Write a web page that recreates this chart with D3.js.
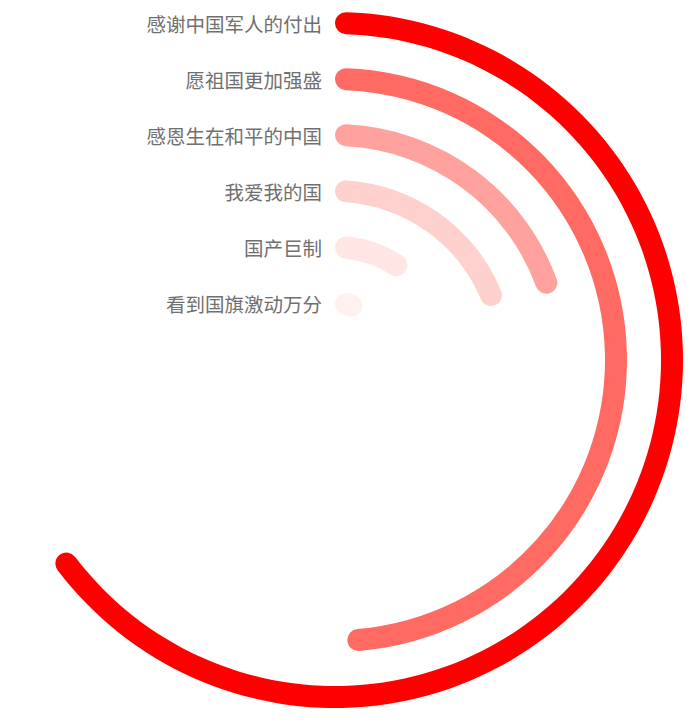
<!DOCTYPE html>
<html>
<head>
<meta charset="utf-8">
<script src="https://cdn.jsdelivr.net/npm/d3@7"></script>
<style>
  body { margin: 0; background: #fff; }
  .ring-label { font-family: "Noto Sans CJK SC", sans-serif; font-size: 19.5px; fill: #707070; }
</style>
</head>
<body>
<div id="radial-vis"></div>
<script>
// Barras radiales

const WIDTH = 700
const HEIGHT = 722

const CATEGORIES = ["感谢中国军人的付出", "愿祖国更加强盛", "感恩生在和平的中国", "我爱我的国", "国产巨制", "看到国旗激动万分"]
const VALUES = [65.2, 49.3, 20.2, 19.75, 10.7, 7.8]
const COLORS = ["#ff0000", "#ff6a63", "#ffa29d", "#ffd1ce", "#ffe5e3", "#fff1f0"]
const MAXVALUE = 100

const CENTER = { x: 335, y: 360 }
const BARWIDTH = 22

const SVG = d3.select("#radial-vis")
  .append("svg")
  .attr("width", WIDTH)
  .attr("height", HEIGHT)

const data = CATEGORIES.map((c, i) => ({ name: c, value: VALUES[i], color: COLORS[i] }))

// radio: categoria mas interna en el centro
const radiusScale = d3.scaleBand()
  .domain(CATEGORIES.slice().reverse())
  .range([29, 365])

const angleScale = d3.scaleLinear()
  .domain([0, MAXVALUE])
  .range([0, 2 * Math.PI])

const rc = d => radiusScale(d.name) + radiusScale.bandwidth() / 2

const arc = d3.arc()
  .innerRadius(d => rc(d) - BARWIDTH / 2)
  .outerRadius(d => rc(d) + BARWIDTH / 2)
  .startAngle(0)
  .endAngle(d => angleScale(d.value))
  .cornerRadius(BARWIDTH / 2)

const g = SVG.append("g")
  .attr("transform", `translate(${CENTER.x}, ${CENTER.y})`)

g.selectAll("path.ring")
  .data(data)
  .join("path")
  .attr("class", "ring")
  .attr("fill", d => d.color)
  .attr("d", arc)

g.selectAll("text.ring-label")
  .data(data)
  .join("text")
  .attr("class", "ring-label")
  .attr("x", -13)
  .attr("y", d => -rc(d))
  .attr("text-anchor", "end")
  .attr("dominant-baseline", "central")
  .text(d => d.name)
</script>
</body>
</html>
